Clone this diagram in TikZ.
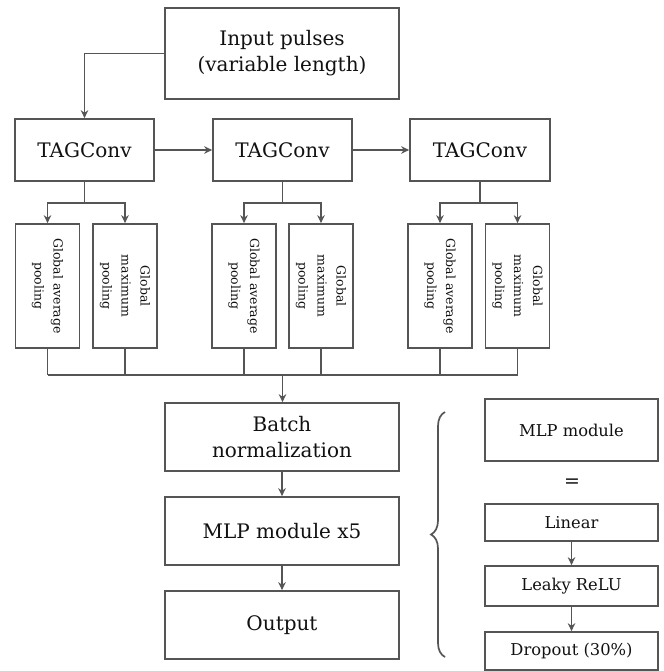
\documentclass[tikz,border=0pt]{standalone}
\usepackage{fontspec}
\setmainfont{DejaVu Serif}
\usetikzlibrary{arrows.meta,decorations.pathreplacing,calc}
\definecolor{ln}{HTML}{555555}
\definecolor{tx}{HTML}{111111}
\begin{document}
\begin{tikzpicture}[x=1pt,y=-1pt,
  box/.style={draw=ln,line width=1.7pt,inner sep=0pt,align=center,text=tx,font=\fontsize{20}{26}\selectfont},
  pool/.style={draw=ln,line width=1.7pt,inner sep=0pt,minimum width=64pt,minimum height=124pt},
  ptext/.style={rotate=-90,align=center,text=tx,font=\fontsize{12.5}{19}\selectfont},
  sbox/.style={draw=ln,line width=1.7pt,inner sep=0pt,align=center,text=tx,font=\fontsize{16.3}{20}\selectfont,minimum width=173pt},
  wire/.style={draw=ln,line width=1.7pt},
  arr/.style={wire,-{Stealth[length=8pt,width=7.5pt]}}]
\useasboundingbox (0,0) rectangle (663,671);
% top
\node[box,minimum width=234pt,minimum height=91pt] (in) at (282,53.5) {Input pulses\\(variable length)};
\node[box,minimum width=139pt,minimum height=62pt] (t1) at (84.5,150) {TAGConv};
\node[box,minimum width=139pt,minimum height=62pt] (t2) at (282.5,150) {TAGConv};
\node[box,minimum width=140pt,minimum height=62pt] (t3) at (480,150) {TAGConv};
% pooling boxes
\foreach \n/\x in {a1/47.5,m1/125,a2/244,m2/321,a3/440,m3/517.5}{
  \node[pool] (\n) at (\x,286) {};
}
\foreach \n in {a1,a2,a3}{\node[ptext] at (\n) {Global average\\pooling};}
\foreach \n in {m1,m2,m3}{\node[ptext] at (\n) {Global\\maximum\\pooling};}
% lower column
\node[box,minimum width=234pt,minimum height=68pt] (bn) at (282,437) {Batch\\normalization};
\node[box,minimum width=234pt,minimum height=68pt] (mlp) at (282,531) {MLP module x5};
\node[box,minimum width=234pt,minimum height=68pt] (out) at (282,625) {Output};
% right panel
\node[sbox,minimum height=62pt] (mm) at (571.5,430) {MLP module};
\node[text=tx,font=\fontsize{19}{20}\selectfont] (eq) at (572,483) {=};
\node[sbox,minimum height=37pt] (lin) at (571.5,522.5) {Linear};
\node[sbox,minimum height=40pt] (relu) at (571.5,586) {Leaky ReLU};
\node[sbox,minimum height=38pt] (drop) at (571.5,651) {Dropout (30\%)};
% connectors
\draw[arr] (in.west) -| (t1.north);
\draw[arr] (t1.east) -- (t2.west);
\draw[arr] (t2.east) -- (t3.west);
\foreach \t/\a/\m in {t1/a1/m1,t2/a2/m2,t3/a3/m3}{
  \coordinate (j\t) at ($(\t.south)+(0,21)$);
  \draw[wire] (\t.south) -- (j\t);
  \draw[arr] (j\t) -| (\a.north);
  \draw[arr] (j\t) -| (\m.north);
}
\coordinate (bus) at (282.5,375);
\foreach \n in {a1,m1,a2,m2,a3,m3}{\draw[wire] (\n.south) -- (\n.south |- bus);}
\draw[wire] (a1.south |- bus) -- (m3.south |- bus);
\draw[arr] (bus) -- (bus |- bn.north);
\draw[arr] (bn) -- (mlp);
\draw[arr] (mlp) -- (out);
\draw[arr] (lin) -- (relu);
\draw[arr] (relu) -- (drop);
% brace
\coordinate (br1) at (445,657);
\coordinate (br2) at (445,412);
\draw[ln,line width=1.7pt,decorate,decoration={brace,amplitude=14pt,aspect=0.5}] (br1) -- (br2);
\end{tikzpicture}
\end{document}
